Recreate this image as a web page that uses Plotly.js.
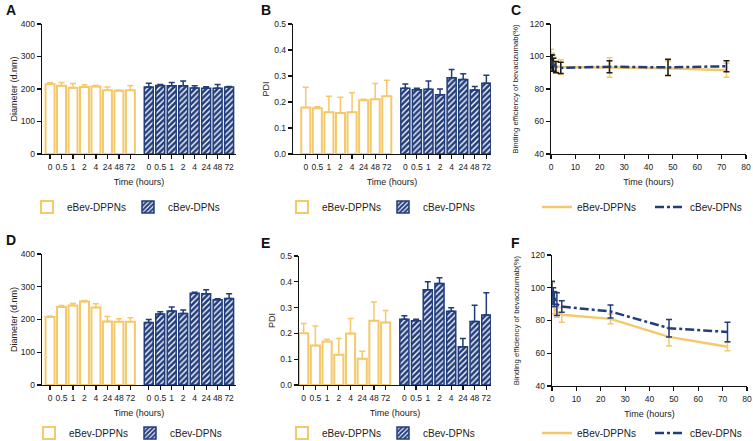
<!DOCTYPE html>
<html>
<head>
<meta charset="utf-8">
<script src="https://cdn.plot.ly/plotly-3.0.1.min.js"></script>
<style>html,body{margin:0;padding:0;background:#fff;}#chart{width:753px;height:441px;}</style>
</head>
<body>
<div id="chart"></div>
<script>
// ---- data ----
const timeLabels = ['0','0.5','1','2','4','24','48','72'];
const timeHours = [0,0.5,1,2,4,24,48,72];
const seriesNames = ['eBev-DPPNs','cBev-DPNs'];

// Panel A: diameter (d.nm), condition 1
const aE = [215,210,204,206,208,196,195,196];
const aEerr = [4,10,13,7,3,10,2,15];
const aC = [206,211,210,210,203,202,202,206];
const aCerr = [12,3,10,15,7,5,12,2];

// Panel B: PDI, condition 1
const bE = [0.179,0.176,0.161,0.158,0.161,0.207,0.211,0.222];
const bEerr = [0.078,0.006,0.061,0.06,0.075,0.004,0.06,0.062];
const bC = [0.253,0.247,0.249,0.228,0.293,0.287,0.246,0.272];
const bCerr = [0.016,0.006,0.032,0.022,0.032,0.022,0.014,0.031];

// Panel C: binding efficiency (%), condition 1
const cE = [100,98,96,94,93.5,93.3,92.8,91.5];
const cEerr = [4.5,4,3.5,3,4.5,6,4.5,4.3];
const cC = [97,96,95,93.5,93,93.7,93.3,94];
const cCerr = [4,5,4,3.5,3.5,3.7,5,3.4];

// Panel D: diameter (d.nm), condition 2
const dE = [208,238,243,255,237,194,193,193];
const dEerr = [3,5,6,3,11,15,9,12];
const dC = [191,217,226,218,280,279,260,264];
const dCerr = [9,7,12,11,3,12,3,15];

// Panel E: PDI, condition 2
const eE = [0.201,0.153,0.169,0.117,0.2,0.102,0.249,0.242];
const eEerr = [0.037,0.076,0.008,0.063,0.058,0.029,0.073,0.047];
const eC = [0.255,0.249,0.369,0.393,0.286,0.148,0.246,0.271];
const eCerr = [0.013,0.006,0.031,0.023,0.013,0.032,0.063,0.087];

// Panel F: binding efficiency (%), condition 2
const fE = [97,93,88,85,83.5,81,70,64];
const fEerr = [6,5,4,3,4.5,3,5.5,2.5];
const fC = [97,95,93,90,88.5,85.5,75.3,73];
const fCerr = [7,5,4.5,7,3.5,4,5.3,6];

// ---- styling / layout helpers ----
const W = 753, H = 441;
const YEL = '#F5C969', NAVY = '#213D7C', TXT = '#222';
const FONT = 'Liberation Sans, Arial, sans-serif';
const GROUP_OFFSET = 8.6;
const posE = timeLabels.map((_, i) => i);
const posC = timeLabels.map((_, i) => i + GROUP_OFFSET);
const px = x => x / W;
const py = y => 1 - y / H;

function barTraces(E, Eerr, C, Cerr, ax, leg) {
  return [
    {type:'bar', x: posE, y: E, width: 0.78, name: seriesNames[0],
     xaxis:'x'+ax, yaxis:'y'+ax, legend: leg,
     marker:{color:'#ffffff', line:{color:YEL, width:2}},
     error_y:{type:'data', symmetric:false, array:Eerr, arrayminus:Eerr.map(()=>0), color:YEL, thickness:1.5, width:3},
     hoverinfo:'skip'},
    {type:'bar', x: posC, y: C, width: 0.78, name: seriesNames[1],
     xaxis:'x'+ax, yaxis:'y'+ax, legend: leg,
     marker:{color:NAVY, line:{color:NAVY, width:1.5},
       pattern:{shape:'/', fgcolor:'#ffffff', bgcolor:NAVY, size:4, solidity:0.35, fillmode:'replace'}},
     error_y:{type:'data', symmetric:false, array:Cerr, arrayminus:Cerr.map(()=>0), color:NAVY, thickness:1.5, width:3},
     hoverinfo:'skip'}
  ];
}
function lineTraces(E, Eerr, C, Cerr, ax, leg, cErrColor) {
  return [
    {type:'scatter', mode:'lines', x: timeHours, y: E, name: seriesNames[0],
     xaxis:'x'+ax, yaxis:'y'+ax, legend: leg, cliponaxis:false,
     line:{color:YEL, width:2.5},
     error_y:{type:'data', array:Eerr, color:YEL, thickness:1.5, width:3}, hoverinfo:'skip'},
    {type:'scatter', mode:'lines', x: timeHours, y: C, name: seriesNames[1],
     xaxis:'x'+ax, yaxis:'y'+ax, legend: leg, cliponaxis:false,
     line:{color:NAVY, width:2.5, dash:'dashdot'},
     error_y:{type:'data', array:Cerr, color:cErrColor, thickness:1.5, width:3}, hoverinfo:'skip'}
  ];
}

const data = [
  ...barTraces(aE, aEerr, aC, aCerr, '', 'legend'),
  ...barTraces(bE, bEerr, bC, bCerr, '2', 'legend2'),
  ...lineTraces(cE, cEerr, cC, cCerr, '3', 'legend3', '#1b1b1b'),
  ...barTraces(dE, dEerr, dC, dCerr, '4', 'legend4'),
  ...barTraces(eE, eEerr, eC, eCerr, '5', 'legend5'),
  ...lineTraces(fE, fEerr, fC, fCerr, '6', 'legend6', NAVY),
];
data[0].xaxis='x'; data[0].yaxis='y'; data[1].xaxis='x'; data[1].yaxis='y';

const axBase = {showline:true, linecolor:'#111', linewidth:1.3, ticks:'outside', ticklen:4, tickwidth:1.2,
  tickcolor:'#111', showgrid:false, zeroline:false, tickangle:0,
  tickfont:{size:8.5, color:TXT, family:FONT}, fixedrange:true};
const tickVals = posE.concat(posC);
const tickText = timeLabels.concat(timeLabels);
function barX(domPx, range) {
  return Object.assign({}, axBase, {domain:[px(domPx[0]), px(domPx[1])], range: range,
    tickvals: tickVals, ticktext: tickText,
    title:{text:'Time (hours)', font:{size:9, color:TXT, family:FONT}, standoff:8}});
}
function lineX(domPx) {
  return Object.assign({}, axBase, {domain:[px(domPx[0]), px(domPx[1])], range:[0,80], dtick:10,
    title:{text:'Time (hours)', font:{size:9, color:TXT, family:FONT}, standoff:8}});
}
function yAx(domPx, range, dtick, title, fmt, anchor, standoff, fsize) {
  return Object.assign({}, axBase, {domain:[py(domPx[1]), py(domPx[0])], range: range, dtick: dtick,
    tickformat: fmt || '', anchor: anchor,
    title:{text: title, font:{size: fsize || 9, color:TXT, family:FONT}, standoff: standoff}});
}
function legendAt(xText, yCenter, entryW) {
  return {orientation:'h', x: px(xText - 42), xanchor:'left', y: py(yCenter), yanchor:'middle',
    font:{size:10, color:TXT, family:FONT}, entrywidth: entryW, entrywidthmode:'pixels',
    bgcolor:'rgba(0,0,0,0)', itemclick:false, itemdoubleclick:false, traceorder:'normal'};
}

const layout = {
  width: W, height: H, margin:{l:0, r:0, t:0, b:0, autoexpand:false},
  paper_bgcolor:'#ffffff', plot_bgcolor:'#ffffff',
  font:{family: FONT, color: TXT},
  barmode:'overlay', showlegend:true,
  xaxis:  Object.assign(barX([42,236], [-0.7,16.2]), {anchor:'y'}),
  yaxis:  yAx([24,154], [0,400], 100, 'Diameter (d.nm)', '', 'x', 1),
  xaxis2: Object.assign(barX([293,491], [-1.1,16.0]), {anchor:'y2'}),
  yaxis2: yAx([24,154], [0,0.5], 0.1, 'PDI', '.1f', 'x2', 3),
  xaxis3: Object.assign(lineX([551,746]), {anchor:'y3'}),
  yaxis3: yAx([24,154], [40,120], 20, 'Binding efficiency of bevacizumab(%)', '', 'x3', 10, 7.8),
  xaxis4: Object.assign(barX([42,236], [-0.7,16.2]), {anchor:'y4'}),
  yaxis4: yAx([254,385], [0,400], 100, 'Diameter (d.nm)', '', 'x4', 1),
  xaxis5: Object.assign(barX([299,491], [-0.4,16.0]), {anchor:'y5'}),
  yaxis5: yAx([256,385], [0,0.5], 0.1, 'PDI', '.1f', 'x5', 3),
  xaxis6: Object.assign(lineX([552,747]), {anchor:'y6'}),
  yaxis6: yAx([255,386], [40,120], 20, 'Binding efficiency of bevacizumab(%)', '', 'x6', 10, 7.8),
  legend:  legendAt(69, 207, 56),
  legend2: legendAt(324, 207, 56),
  legend3: legendAt(579, 207, 68),
  legend4: legendAt(71, 433, 56),
  legend5: legendAt(324, 433, 56),
  legend6: legendAt(579, 433, 68),
  annotations: [
    ['A', 4, 10], ['B', 259, 10], ['C', 509, 10],
    ['D', 4, 240], ['E', 259, 243], ['F', 509, 243]
  ].map(([t, x, y]) => ({text:'<b>'+t+'</b>', xref:'paper', yref:'paper', x: px(x), y: py(y),
      xanchor:'left', yanchor:'middle', showarrow:false, font:{size:14, color:'#111', family:FONT}}))
};

Plotly.newPlot('chart', data, layout, {displayModeBar:false, staticPlot:true});
</script>
</body>
</html>
